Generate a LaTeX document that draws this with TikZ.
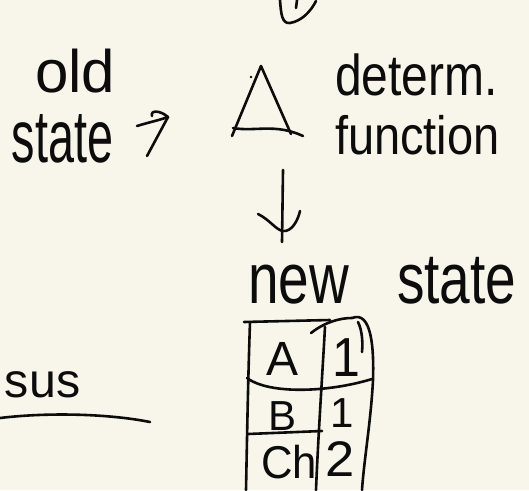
\documentclass[tikz,border=0pt]{standalone}
\usepackage{fontspec}
\setmainfont{Liberation Sans}
\definecolor{paper}{RGB}{248,246,234}
\definecolor{ink}{RGB}{12,12,12}
\tikzset{
  pen/.style={draw=ink, line width=2.6pt, line cap=round, line join=round},
  hand/.style={inner sep=0pt, outer sep=0pt, text=ink, anchor=base west},
}
\newcommand{\hw}[4]{{\fontsize{#1}{#1}\selectfont\scalebox{#2}[#3]{#4}}}
\begin{document}
\begin{tikzpicture}[x=1pt,y=-1pt]
\useasboundingbox (0,0) rectangle (529,490);
\fill[paper] (0,0) rectangle (529,490);

% cut-off shape at top
\draw[pen] (280,0) .. controls (281,14) and (282,24) .. (290,23)
           .. controls (302,21) and (311,11) .. (316,1);
\draw[pen] (297,0) -- (296,8);

% old state
\node[hand] (old) at (35,92) {\hw{50}{1.2}{1.2}{old}};
\node[hand] (oldstate) at (12,162) {\hw{55}{0.85}{1.35}{state}};

% arrow "7"
\coordinate (a1) at (147,156);
\coordinate (a2) at (168,117);
\draw[pen] (a1) -- (a2);
\draw[pen] (137,126) .. controls (150,122) and (160,120) .. (168,117)
           .. controls (160,110) and (150,110) .. (152,116);

% triangle (determ. function)
\coordinate (tri) at (263,105);
\draw[pen] (232,136) -- (261,66) -- (291,134);
\draw[pen] (233,128) .. controls (255,132) and (275,123) .. (303,136);
\fill[ink] (251,77) circle (1.3pt);

\node[hand] (determ) at (335,95) {\hw{48}{1}{1.2}{determ.}};
\node[hand] (function) at (335,154) {\hw{47}{1}{1.15}{function}};

% down arrow
\coordinate (d1) at (283,170);
\coordinate (d2) at (282,242);
\draw[pen] (d1) -- (d2);
\draw[pen] (258,214) .. controls (270,220) and (276,230) .. (283,231)
           .. controls (292,232) and (298,220) .. (300,211);

% new state
\node[hand] (new) at (248,303) {\hw{55}{1}{1.3}{new}};
\node[hand] (newstate) at (397,303) {\hw{55}{1}{1.3}{state}};

% table
\draw[pen] (244,322) -- (330,320);
\draw[pen] (311,333) .. controls (325,322) and (340,318) .. (352,318);
\draw[pen] (250,322) .. controls (248,380) and (247,440) .. (246,490);
\draw[pen] (325,327) .. controls (322,380) and (318,440) .. (316,490);
\draw[pen] (352,318) .. controls (372,310) and (374,350) .. (373,380)
           .. controls (371,420) and (364,460) .. (362,490);
\draw[pen] (358,322) .. controls (362,330) and (363,342) .. (362,352);
\draw[pen] (247,378) .. controls (270,395) and (330,392) .. (372,379);
\draw[pen] (248,434) -- (322,431);

\node[hand] (cA) at (266,375) {\hw{48}{1}{1}{A}};
\node[hand] (c1a) at (332,376) {\hw{50}{1}{1.1}{1}};
\node[hand] (cB) at (268,430) {\hw{42}{1}{1}{B}};
\node[hand] (c1b) at (330,427) {\hw{42}{1}{1}{1}};
\node[hand] (cCh) at (261,478) {\hw{46}{0.95}{1}{Ch}};
\node[hand] (c2) at (325,476) {\hw{50}{1.05}{1}{2}};

% sus
\node[hand] (sus) at (5,397) {\hw{46}{1.05}{1.05}{sus}};
\draw[pen] (0,418) .. controls (50,412) and (110,414) .. (150,422);
\end{tikzpicture}
\end{document}
